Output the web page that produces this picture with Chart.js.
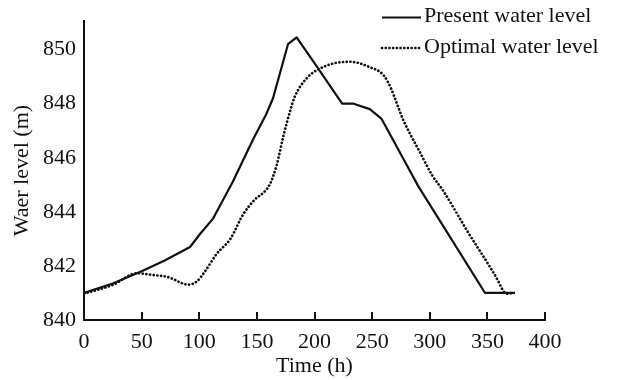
<!DOCTYPE html>
<html><head><meta charset="utf-8">
<script src="https://cdn.jsdelivr.net/npm/chart.js@4/dist/chart.umd.min.js"></script>
<style>html,body{margin:0;padding:0;background:#fff}</style>
</head><body>
<canvas id="c" width="624" height="380"></canvas>
<script>
// ---- data ----
const presentTime  = [0, 25, 50, 70, 92, 101, 112, 129, 147, 158, 164, 177, 184.5, 200, 224, 234, 248, 258, 274, 290, 348, 374];
const presentLevel = [841.0, 841.35, 841.8, 842.2, 842.7, 843.2, 843.75, 845.1, 846.7, 847.6, 848.2, 850.2, 850.45, 849.5, 848.0, 848.0, 847.8, 847.45, 846.2, 844.95, 841.0, 841.0];
const optimalTime  = [0, 25, 46, 60, 72, 90.5, 98, 105, 115, 127, 138, 147, 161, 167, 173, 179, 183, 193, 210, 231, 248, 260, 266, 277, 291.5, 302, 312, 332, 358, 364, 367, 372];
const optimalLevel = [840.97, 841.3, 841.73, 841.66, 841.6, 841.31, 841.43, 841.8, 842.44, 843.0, 843.9, 844.4, 845.0, 845.7, 846.8, 847.75, 848.27, 848.93, 849.4, 849.55, 849.35, 849.05, 848.6, 847.4, 846.2, 845.36, 844.76, 843.33, 841.55, 841.07, 840.97, 841.0];
const xTicks = [0, 50, 100, 150, 200, 250, 300, 350, 400];
const yTicks = [840, 842, 844, 846, 848, 850];
const seriesLabels = ['Present water level', 'Optimal water level'];
const xTitle = 'Time (h)';
const yTitle = 'Waer level (m)';

const FONT = {family: '"Liberation Serif", "Times New Roman", serif', size: 22};
const INK = '#111';

const toPts = (xs, ys) => xs.map((x, i) => ({x, y: ys[i]}));

const innerTicks = {
  id: 'innerTicks',
  afterDatasetsDraw(chart) {
    const ctx = chart.ctx, xs = chart.scales.x, ca = chart.chartArea;
    ctx.save();
    ctx.strokeStyle = INK; ctx.lineWidth = 2;
    xTicks.forEach(v => {
      const px = Math.round(xs.getPixelForValue(v));
      ctx.beginPath(); ctx.moveTo(px, ca.bottom); ctx.lineTo(px, ca.bottom - 8); ctx.stroke();
    });
    ctx.restore();
  }
};

const customLegend = {
  id: 'customLegend',
  afterDraw(chart) {
    const ctx = chart.ctx;
    ctx.save();
    ctx.font = FONT.size + 'px ' + FONT.family;
    ctx.fillStyle = INK; ctx.textBaseline = 'middle'; ctx.textAlign = 'left';
    chart.data.datasets.forEach((ds, i) => {
      const y = 17.5 + i * 30.5;
      ctx.strokeStyle = INK;
      ctx.lineWidth = ds.borderWidth;
      ctx.setLineDash(ds.borderDash || []);
      ctx.lineCap = ds.borderCapStyle || 'butt';
      ctx.beginPath(); ctx.moveTo(382, y); ctx.lineTo(421, y); ctx.stroke();
      ctx.setLineDash([]);
      ctx.fillText(ds.label, 424, y - 1);
    });
    ctx.restore();
  }
};

new Chart(document.getElementById('c'), {
  type: 'line',
  data: {
    datasets: [
      {label: seriesLabels[0], data: toPts(presentTime, presentLevel), borderColor: INK, borderWidth: 2.2,
       pointRadius: 0, tension: 0, fill: false, borderJoinStyle: 'round'},
      {label: seriesLabels[1], data: toPts(optimalTime, optimalLevel), borderColor: INK, borderWidth: 2.7,
       borderDash: [0.1, 3.6], borderCapStyle: 'round', pointRadius: 0, cubicInterpolationMode: 'monotone', fill: false}
    ]
  },
  options: {
    responsive: false, animation: false, devicePixelRatio: 1,
    layout: {padding: {top: 10, right: 79, left: 0, bottom: 0}},
    plugins: {legend: {display: false}, tooltip: {enabled: false}},
    scales: {
      x: {
        type: 'linear', min: 0, max: 400,
        afterBuildTicks: s => { s.ticks = xTicks.map(v => ({value: v})); },
        afterFit: s => { s.height = 60; },
        ticks: {font: FONT, color: INK, padding: 9, maxRotation: 0, autoSkip: false},
        grid: {display: false, drawTicks: false},
        border: {display: true, color: INK, width: 2},
        title: {display: true, text: xTitle, font: FONT, color: INK, padding: {top: 0, bottom: 1}}
      },
      y: {
        type: 'linear', min: 840, max: 851.05,
        afterBuildTicks: s => { s.ticks = yTicks.map(v => ({value: v})); },
        afterFit: s => { s.width = 84; },
        ticks: {font: FONT, color: INK, padding: 8},
        grid: {display: false, drawTicks: false},
        border: {display: true, color: INK, width: 2},
        title: {display: true, text: yTitle, font: FONT, color: INK, padding: {top: 9, bottom: 0}}
      }
    }
  },
  plugins: [innerTicks, customLegend]
});
</script>
</body></html>
